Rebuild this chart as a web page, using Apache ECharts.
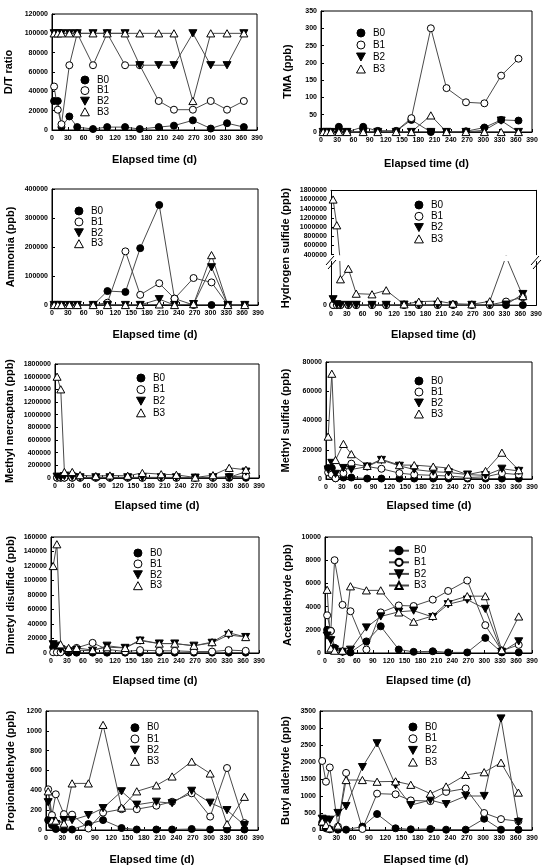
<!DOCTYPE html>
<html><head><meta charset="utf-8">
<script src="https://cdn.jsdelivr.net/npm/echarts@6/dist/echarts.min.js"></script>
<style>html,body{margin:0;padding:0;background:#fff}#c{width:548px;height:867px}</style>
</head><body><div id="c"></div>
<script>
// ---------- shared ----------
const days = [4, 11, 18, 33, 48, 78, 105, 139, 167, 203, 232, 268, 302, 333, 365];
const xTicks = [0, 30, 60, 90, 120, 150, 180, 210, 240, 270, 300, 330, 360, 390];
const groups = ['B0', 'B1', 'B2', 'B3'];

// ---------- D/T ratio ----------
const dt_yTicks = [0, 20000, 40000, 60000, 80000, 100000, 120000];
const dt_B0 = [30000, 30000, 3000, 14000, 3000, 1000, 3000, 3000, 1000, 3000, 4500, 10000, 1500, 7000, 3000];
const dt_B1 = [45000, 21000, 6000, 67000, 100000, 67000, 100000, 67000, 67000, 30000, 21000, 21000, 30000, 21000, 30000];
const dt_B2 = [100000, 100000, 100000, 100000, 100000, 100000, 100000, 100000, 67000, 67000, 67000, 100000, 67000, 67000, 100000];
const dt_B3 = [100000, 100000, 100000, 100000, 100000, 100000, 100000, 100000, 100000, 100000, 100000, 30000, 100000, 100000, 100000];

// ---------- TMA ----------
const tma_yTicks = [0, 50, 100, 150, 200, 250, 300, 350];
const tma_B0 = [0, 0, 0, 15, 0, 15, 3, 3, 35, 0, 0, 2, 13, 35, 33];
const tma_B1 = [0, 0, 0, 0, 0, 0, 3, 3, 40, 300, 127, 86, 83, 163, 212];
const tma_B2 = [0, 0, 0, 0, 0, 0, 0, 0, 0, 0, 0, 0, 5, 33, 0];
const tma_B3 = [0, 0, 0, 0, 0, 0, 0, 0, 0, 48, 0, 0, 0, 0, 0];

// ---------- Ammonia ----------
const nh3_yTicks = [0, 100000, 200000, 300000, 400000];
const nh3_B0 = [0, 0, 0, 0, 0, 0, 48000, 45000, 196000, 345000, 22000, 0, 0, 0, 0];
const nh3_B1 = [0, 0, 0, 0, 0, 0, 8000, 185000, 35000, 75000, 22000, 93000, 78000, 0, 0];
const nh3_B2 = [0, 0, 0, 0, 0, 0, 0, 0, 0, 20000, 0, 3000, 130000, 0, 0];
const nh3_B3 = [0, 0, 0, 0, 0, 0, 0, 0, 0, 2000, 0, 3000, 172000, 0, 0];

// ---------- Hydrogen sulfide (broken axis) ----------
const h2s_upperTicks = [400000, 600000, 800000, 1000000, 1200000, 1400000, 1600000, 1800000];
const h2s_lowerTicks = [0, 350000];
const h2s_B0 = [3000, 2000, 2000, 2000, 2000, 2000, 2000, 2000, 2000, 2000, 2000, 2000, 2000, 2000, 2000];
const h2s_B1 = [2000, 2000, 2000, 2000, 2000, 2000, 2000, 5000, 3000, 3000, 3000, 3000, 3000, 30000, 64000];
const h2s_B2 = [48000, 8000, 3000, 3000, 3000, 3000, 3000, 5000, 3000, 3000, 3000, 3000, 3000, 5000, 90000];
const h2s_B3 = [1600000, 1040000, 208000, 292000, 93000, 88000, 120000, 8000, 29000, 34000, 13000, 8000, 32000, 390000, 74000];

// ---------- Methyl mercaptan ----------
const mesh_yTicks = [0, 200000, 400000, 600000, 800000, 1000000, 1200000, 1400000, 1600000, 1800000];
const mesh_B0 = [5000, 5000, 5000, 5000, 3000, 3000, 3000, 3000, 3000, 3000, 3000, 3000, 3000, 3000, 3000];
const mesh_B1 = [5000, 5000, 5000, 5000, 5000, 5000, 5000, 5000, 5000, 5000, 5000, 5000, 5000, 20000, 30000];
const mesh_B2 = [20000, 15000, 30000, 20000, 10000, 10000, 10000, 10000, 10000, 10000, 10000, 5000, 10000, 10000, 100000];
const mesh_B3 = [1600000, 1400000, 95000, 95000, 45000, 30000, 40000, 35000, 80000, 60000, 50000, 8000, 45000, 160000, 130000];

// ---------- Methyl sulfide ----------
const mes_yTicks = [0, 20000, 40000, 60000, 80000];
const mes_B0 = [7500, 7500, 500, 1000, 1000, 300, 300, 300, 300, 300, 300, 300, 300, 300, 300];
const mes_B1 = [4500, 3000, 500, 4000, 10500, 8500, 7000, 4000, 3000, 2500, 2000, 1000, 1500, 4000, 3000];
const mes_B2 = [6500, 11000, 3500, 7500, 6500, 8500, 13000, 9000, 6500, 5000, 4500, 3000, 2500, 7000, 5500];
const mes_B3 = [29000, 72000, 13000, 24000, 17000, 9000, 13500, 9500, 9500, 8500, 7500, 3000, 5500, 18000, 6000];

// ---------- Dimethyl disulfide ----------
const dmds_yTicks = [0, 20000, 40000, 60000, 80000, 100000, 120000, 140000, 160000];
const dmds_B0 = [8000, 5000, 2000, 500, 500, 500, 500, 500, 500, 500, 500, 500, 500, 500, 500];
const dmds_B1 = [1000, 1000, 1000, 4000, 7000, 14000, 5000, 2000, 4000, 3000, 3000, 2000, 2000, 4000, 3000];
const dmds_B2 = [12000, 10000, 5000, 2000, 4000, 3000, 10000, 7000, 17000, 13000, 13000, 10000, 14000, 25000, 22000];
const dmds_B3 = [120000, 150000, 12000, 7000, 7000, 4000, 8000, 7000, 18000, 13000, 13000, 10000, 15000, 28000, 22000];

// ---------- Acetaldehyde ----------
const acet_yTicks = [0, 2000, 4000, 6000, 8000, 10000];
const acet_B0 = [2000, 1900, 450, 100, 50, 1000, 2300, 300, 100, 150, 50, 50, 1300, 50, 50];
const acet_B1 = [3250, 1900, 8000, 4150, 3600, 300, 3500, 4100, 4050, 4600, 5350, 6250, 2400, 200, 700];
const acet_B2 = [1500, 1100, 300, 100, 280, 2200, 3150, 3550, 3650, 3100, 4200, 4600, 3800, 100, 1000];
const acet_B3 = [5450, 400, 200, 200, 5750, 5400, 5400, 3500, 2700, 3200, 4400, 4900, 4900, 250, 3150];

// ---------- Propionaldehyde ----------
const prop_yTicks = [0, 200, 400, 600, 800, 1000, 1200];
const prop_B0 = [100, 50, 10, 5, 5, 60, 100, 20, 5, 5, 5, 10, 5, 5, 5];
const prop_B1 = [410, 150, 360, 160, 155, 15, 175, 210, 210, 245, 285, 370, 135, 625, 70];
const prop_B2 = [280, 90, 60, 100, 100, 150, 220, 390, 255, 285, 270, 395, 275, 200, 50];
const prop_B3 = [390, 95, 95, 65, 470, 470, 1060, 225, 390, 450, 540, 690, 570, 60, 335];

// ---------- Butyl aldehyde ----------
const buty_yTicks = [0, 500, 1000, 1500, 2000, 2500, 3000, 3500];
const buty_B0 = [220, 50, 20, 10, 10, 100, 470, 50, 20, 30, 10, 10, 330, 10, 10];
const buty_B1 = [2030, 1420, 1840, 100, 1680, 30, 1070, 1050, 870, 850, 1120, 1220, 500, 320, 260];
const buty_B2 = [330, 300, 300, 500, 700, 1850, 2550, 1320, 730, 880, 760, 1000, 1000, 3280, 230];
const buty_B3 = [250, 150, 50, 130, 1470, 1470, 1420, 1430, 1330, 1070, 1280, 1620, 1700, 1980, 1100];

// ---------- layout & styling ----------
const FONT = "'Liberation Sans', Arial, Helvetica, sans-serif";
const DOWN = 'path://M0,0L10,0L5,9Z';
const UP = 'path://M5,0L10,9L0,9Z';
const marks = {
  B0: {symbol: 'circle', size: 7, fill: '#000'},
  B1: {symbol: 'circle', size: 7, fill: '#fff'},
  B2: {symbol: DOWN, size: 8, fill: '#000'},
  B3: {symbol: UP, size: 8, fill: '#fff'}
};
const LINE_COLOR = '#4a4a4a';
const X_NAME = 'Elapsed time (d)';

const panels = [
  {yName: 'D/T ratio', data: [dt_B0, dt_B1, dt_B2, dt_B3], ticks: dt_yTicks,
   grid: {left: 52, top: 14, width: 205, height: 116}, yGap: 38, xGap: 24, leg: {left: 80, top: 75, gap: 0.6}},
  {yName: 'TMA (ppb)', data: [tma_B0, tma_B1, tma_B2, tma_B3], ticks: tma_yTicks,
   grid: {left: 321, top: 11, width: 211, height: 121}, yGap: 28, xGap: 26, leg: {left: 356, top: 28, gap: 2}},
  {yName: 'Ammonia (ppb)', data: [nh3_B0, nh3_B1, nh3_B2, nh3_B3], ticks: nh3_yTicks,
   grid: {left: 52, top: 189, width: 206, height: 116}, yGap: 36, xGap: 24, leg: {left: 74, top: 206, gap: 0.9}},
  {yName: 'Hydrogen sulfide (ppb)', data: [h2s_B0, h2s_B1, h2s_B2, h2s_B3], broken: true,
   upper: {left: 331, top: 190.3, width: 205, height: 64.4}, lower: {left: 331, top: 261.5, width: 205, height: 43.8},
   nameAt: [286, 248], xGap: 24, leg: {left: 414, top: 200, gap: 1.3}},
  {yName: 'Methyl mercaptan (ppb)', data: [mesh_B0, mesh_B1, mesh_B2, mesh_B3], ticks: mesh_yTicks,
   grid: {left: 55, top: 364, width: 204, height: 114}, yGap: 40, xGap: 22.5, leg: {left: 136, top: 373, gap: 1.6}},
  {yName: 'Methyl sulfide (ppb)', data: [mes_B0, mes_B1, mes_B2, mes_B3], ticks: mes_yTicks,
   grid: {left: 326, top: 362, width: 206, height: 117}, yGap: 35, xGap: 21.5, leg: {left: 414, top: 376, gap: 1}},
  {yName: 'Dimetyl disulfide (ppb)', data: [dmds_B0, dmds_B1, dmds_B2, dmds_B3], ticks: dmds_yTicks,
   grid: {left: 51, top: 537, width: 208, height: 116}, yGap: 35, xGap: 22, leg: {left: 133, top: 548, gap: 0.9}},
  {yName: 'Acetaldehyde (ppb)', data: [acet_B0, acet_B1, acet_B2, acet_B3], ticks: acet_yTicks,
   grid: {left: 325, top: 537, width: 207, height: 116}, yGap: 32, xGap: 22, leg: {left: 388, top: 545.7, gap: 1.6, lines: true}},
  {yName: 'Propionaldehyde (ppb)', data: [prop_B0, prop_B1, prop_B2, prop_B3], ticks: prop_yTicks,
   grid: {left: 46, top: 711, width: 212, height: 119}, yGap: 30, xGap: 24, leg: {left: 130, top: 722.7, gap: 1.2}},
  {yName: 'Butyl aldehyde (ppb)', data: [buty_B0, buty_B1, buty_B2, buty_B3], ticks: buty_yTicks,
   grid: {left: 320, top: 711, width: 212, height: 119}, yGap: 29, xGap: 24, leg: {left: 408, top: 722, gap: 1.7}}
];

const tickLabel = {fontSize: 7, fontWeight: 'bold', color: '#000', fontFamily: FONT};
const nameStyle = {fontSize: 11, fontWeight: 'bold', color: '#000', fontFamily: FONT};
const blackLine = {show: true, lineStyle: {color: '#000', width: 1}};
const fmt = v => String(v);

const option = {animation: false, backgroundColor: '#fff', grid: [], xAxis: [], yAxis: [], series: [], legend: [], graphic: []};

function addGrid(rect, show) {
  option.grid.push(Object.assign({show: show, borderColor: '#000', borderWidth: 1, backgroundColor: 'transparent',
    containLabel: false, outerBoundsMode: 'none'}, rect));
  return option.grid.length - 1;
}
function addX(g, opts) {
  option.xAxis.push(Object.assign({
    gridIndex: g, type: 'value', min: xTicks[0], max: xTicks[xTicks.length - 1], interval: xTicks[1] - xTicks[0],
    axisLine: blackLine, axisTick: {show: true, inside: true, length: 3, lineStyle: {color: '#000'}},
    axisLabel: Object.assign({margin: 5, formatter: fmt}, tickLabel), splitLine: {show: false},
    name: X_NAME, nameLocation: 'middle', nameTextStyle: nameStyle
  }, opts));
  return option.xAxis.length - 1;
}
function addY(g, ticks, opts) {
  option.yAxis.push(Object.assign({
    gridIndex: g, type: 'value', min: ticks[0], max: ticks[ticks.length - 1], interval: ticks[1] - ticks[0],
    axisLine: blackLine, axisTick: {show: true, inside: true, length: 3, lineStyle: {color: '#000'}},
    axisLabel: Object.assign({margin: 4, formatter: fmt}, tickLabel), splitLine: {show: false},
    nameLocation: 'middle', nameRotate: 90, nameTextStyle: nameStyle
  }, opts));
  return option.yAxis.length - 1;
}
function addSeries(name, values, xi, yi) {
  const m = marks[name];
  option.series.push({
    type: 'line', name: name, xAxisIndex: xi, yAxisIndex: yi,
    data: days.map((d, i) => [d, values[i]]),
    symbol: m.symbol, symbolSize: m.size, symbolKeepAspect: true, showSymbol: true,
    itemStyle: {color: m.fill, borderColor: '#000', borderWidth: 1},
    lineStyle: {color: LINE_COLOR, width: 1},
    emphasis: {disabled: true}, silent: true, clip: true, animation: false
  });
}
function addLegend(leg) {
  const base = {orient: 'vertical', left: leg.left, top: leg.top, padding: 0, itemGap: leg.gap,
    selectedMode: false, symbolKeepAspect: true, textStyle: {fontSize: 10, color: '#000', fontFamily: FONT}};
  if (leg.lines) {
    option.legend.push(Object.assign(base, {itemWidth: 20, itemHeight: 9, data: groups.slice()}));
  } else {
    option.legend.push(Object.assign(base, {itemWidth: 14, itemHeight: 8,
      data: groups.map(n => ({name: n, icon: marks[n].symbol,
        itemStyle: {color: marks[n].fill, borderColor: '#000', borderWidth: 1}}))}));
  }
}

panels.forEach(p => {
  if (!p.broken) {
    const g = addGrid(p.grid, true);
    const xi = addX(g, {nameGap: p.xGap});
    const yi = addY(g, p.ticks, {name: p.yName, nameGap: p.yGap});
    groups.forEach((n, k) => addSeries(n, p.data[k], xi, yi));
  } else {
    // upper part of the broken axis
    const gu = addGrid(p.upper, false);
    const xu = addX(gu, {position: 'top', name: '', axisTick: {show: false}, axisLabel: {show: false}});
    const yu = addY(gu, h2s_upperTicks, {});
    addY(gu, h2s_upperTicks, {position: 'right', axisTick: {show: false}, axisLabel: {show: false}});
    // lower part
    const gl = addGrid(p.lower, false);
    const xl = addX(gl, {nameGap: p.xGap});
    const yl = addY(gl, h2s_lowerTicks, {axisTick: {show: false},
      axisLabel: Object.assign({margin: 4, formatter: v => (v === 0 ? '0' : '')}, tickLabel)});
    addY(gl, h2s_lowerTicks, {position: 'right', axisTick: {show: false}, axisLabel: {show: false}});
    groups.forEach((n, k) => addSeries(n, p.data[k], xl, yl));
    addSeries('B3', p.data[3], xu, yu);
    option.graphic.push({type: 'text', x: p.nameAt[0], y: p.nameAt[1], rotation: Math.PI / 2,
      style: {text: p.yName, fontSize: 11, fontWeight: 'bold', fontFamily: FONT, fill: '#000', align: 'center', verticalAlign: 'middle'}});
    // break marks on both vertical axes
    [p.upper.left, p.upper.left + p.upper.width].forEach(x => {
      option.graphic.push({type: 'line', shape: {x1: x - 5, y1: 265, x2: x + 3, y2: 256}, style: {stroke: '#000', lineWidth: 1}});
      option.graphic.push({type: 'line', shape: {x1: x - 3, y1: 269, x2: x + 5, y2: 260}, style: {stroke: '#000', lineWidth: 1}});
    });
  }
  addLegend(p.leg);
});

const chart = echarts.init(document.getElementById('c'), null, {renderer: 'canvas'});
chart.setOption(option);
</script>
</body></html>
